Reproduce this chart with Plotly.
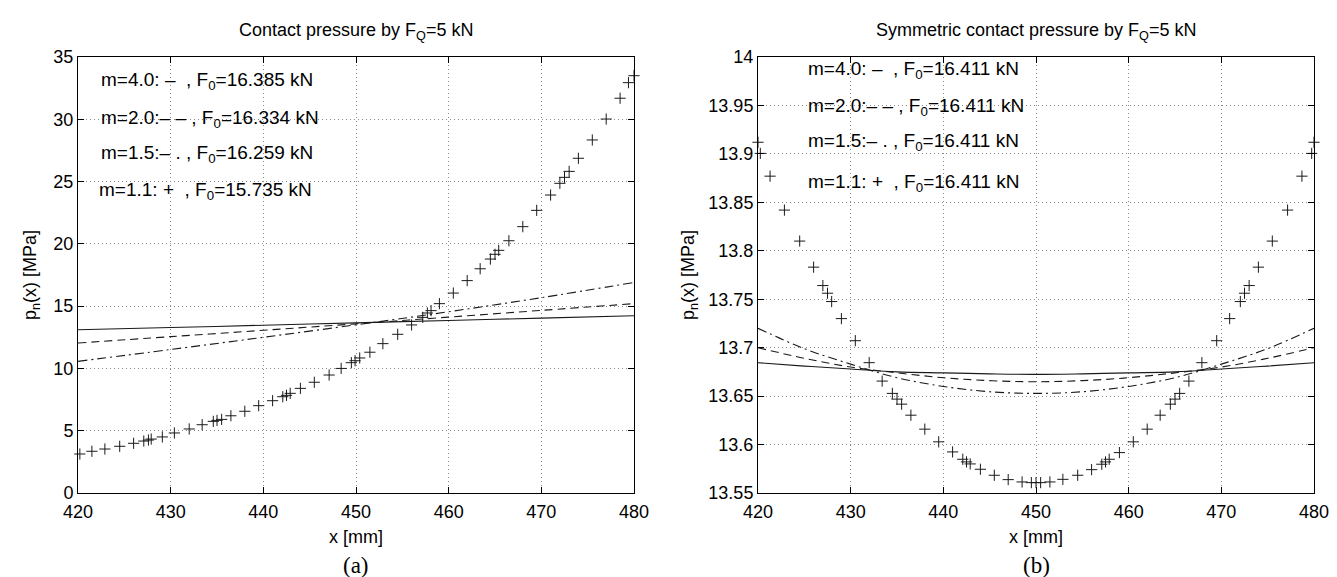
import plotly.graph_objects as go

W, H = 1337, 577

# ---------------- data: plot (a) ----------------
xa_line = [420, 430, 440, 450, 460, 470, 480]
ya_m40 = [13.10, 13.28, 13.47, 13.66, 13.85, 14.04, 14.23]
ya_m20 = [12.04, 12.55, 13.06, 13.58, 14.12, 14.66, 15.20]
ya_m15 = [10.57, 11.52, 12.50, 13.50, 14.55, 15.68, 16.90]

xa_m11 = [420.2, 421.5, 422.9, 424.5, 426.0, 427.1, 427.6, 427.9, 429.1, 430.4,
          432.0, 433.4, 434.6, 435.0, 435.5, 436.5, 438.0, 439.5, 441.0, 442.1,
          442.5, 442.9, 444.0, 445.5, 447.1, 448.4, 449.5, 449.9, 450.4, 451.5,
          452.9, 454.5, 456.0, 457.2, 457.7, 458.1, 459.0, 460.5, 462.0, 463.4,
          464.5, 465.0, 465.4, 466.5, 468.0, 469.5, 471.0, 472.0, 472.5, 473.0,
          474.0, 475.5, 477.0, 478.5, 479.4, 480.0]
ya_m11 = [3.13, 3.35, 3.53, 3.75, 3.99, 4.17, 4.25, 4.33, 4.50, 4.82,
          5.14, 5.48, 5.75, 5.83, 5.91, 6.20, 6.56, 7.01, 7.41, 7.73,
          7.84, 8.00, 8.40, 8.89, 9.47, 10.00, 10.46, 10.62, 10.84, 11.30,
          11.99, 12.74, 13.49, 14.10, 14.45, 14.64, 15.20, 16.05, 17.05, 18.00,
          18.78, 19.16, 19.48, 20.25, 21.38, 22.69, 23.92, 24.86, 25.34, 25.82,
          26.87, 28.34, 30.02, 31.69, 32.94, 33.50]

# ---------------- data: plot (b) ----------------
xb_line = [420, 425, 430, 435, 440, 445, 450, 455, 460, 465, 470, 475, 480]
yb_m40 = [13.6845, 13.681, 13.678, 13.675, 13.674, 13.673, 13.6724,
          13.673, 13.674, 13.675, 13.678, 13.681, 13.6845]
yb_m20 = [13.700, 13.689, 13.680, 13.674, 13.669, 13.666, 13.6648,
          13.666, 13.669, 13.674, 13.680, 13.689, 13.700]
yb_m15 = [13.720, 13.699, 13.683, 13.669, 13.660, 13.6545, 13.6528,
          13.6545, 13.660, 13.669, 13.683, 13.699, 13.720]

xb_m11 = [420.0, 420.25, 421.3, 422.85, 424.5, 426.0, 427.0, 427.5, 427.95, 429.0,
          430.5, 432.0, 433.4, 434.5, 435.0, 435.5, 436.5, 438.0, 439.5, 441.0,
          442.1, 442.5, 442.9, 444.0, 445.5, 447.0, 448.5, 449.5, 450.0, 450.5,
          451.5, 452.9, 454.5, 456.0, 457.1, 457.5, 457.9, 459.0, 460.5, 462.0,
          463.4, 464.5, 465.0, 465.5, 466.5, 467.9, 469.5, 470.9, 472.05, 472.5,
          473.0, 474.0, 475.5, 477.15, 478.7, 479.75, 480.0]
yb_m11 = [13.912, 13.9005, 13.877, 13.842, 13.810, 13.7831, 13.7641, 13.7562, 13.7476, 13.730,
          13.7072, 13.6845, 13.6655, 13.6528, 13.6469, 13.6417, 13.6303, 13.6159, 13.6028, 13.5924,
          13.5848, 13.5821, 13.580, 13.5745, 13.5683, 13.5638, 13.5614, 13.5607, 13.5607, 13.5607,
          13.5614, 13.5641, 13.5683, 13.5741, 13.5797, 13.5821, 13.5848, 13.5917, 13.6028, 13.6159,
          13.6303, 13.6417, 13.6469, 13.6528, 13.6655, 13.6845, 13.7072, 13.730, 13.7476, 13.7562,
          13.7641, 13.7831, 13.810, 13.842, 13.877, 13.9005, 13.912]

# ---------------- labels ----------------
x_ticks = [420, 430, 440, 450, 460, 470, 480]
ya_ticks = [0, 5, 10, 15, 20, 25, 30, 35]
yb_ticks = [13.55, 13.6, 13.65, 13.7, 13.75, 13.8, 13.85, 13.9, 13.95, 14.0]
yb_ticktext = ["13.55", "13.6", "13.65", "13.7", "13.75", "13.8", "13.85", "13.9", "13.95", "14"]

title_a = "Contact pressure by F<sub>Q</sub>=5 kN"
title_b = "Symmetric contact pressure by F<sub>Q</sub>=5 kN"
ytitle = "p<sub>n</sub>(x) [MPa]"
xtitle = "x [mm]"
NB = "\u00a0"
legend_a = [f"m=4.0: –{NB}{NB}, F<sub>0</sub>=16.385 kN",
            f"m=2.0:– –{NB}, F<sub>0</sub>=16.334 kN",
            f"m=1.5:– .{NB}, F<sub>0</sub>=16.259 kN",
            f"m=1.1: +{NB}{NB}, F<sub>0</sub>=15.735 kN"]
legend_b = [f"m=4.0: –{NB}{NB}, F<sub>0</sub>=16.411 kN",
            f"m=2.0:– –{NB}, F<sub>0</sub>=16.411 kN",
            f"m=1.5:– .{NB}, F<sub>0</sub>=16.411 kN",
            f"m=1.1: +{NB}{NB}, F<sub>0</sub>=16.411 kN"]
legend_a_pos = [(422.3, 33.05), (422.3, 30.0), (422.3, 27.24), (422.1, 24.27)]
legend_b_pos = [(425.2, 13.987), (425.2, 13.948), (425.2, 13.912), (425.2, 13.870)]

SANS = "Liberation Sans, Arial, Helvetica, sans-serif"
SERIF = "Liberation Serif, Times New Roman, serif"
LC = "#1a1a1a"

fig = go.Figure()

def add_lines(x, ys, xa, ya):
    dashes = ["solid", "8px,5px", "9px,4px,2px,4px"]
    for y, d in zip(ys, dashes):
        fig.add_trace(go.Scatter(
            x=x, y=y, mode="lines", xaxis=xa, yaxis=ya, showlegend=False,
            line=dict(color=LC, width=1.1, dash=d, shape="spline", smoothing=1.0),
            hoverinfo="skip"))

def add_markers(x, y, xa, ya):
    fig.add_trace(go.Scatter(
        x=x, y=y, mode="markers", xaxis=xa, yaxis=ya, showlegend=False,
        cliponaxis=False,
        marker=dict(symbol="cross-thin", size=8, color=LC,
                    line=dict(width=1.0, color=LC)),
        hoverinfo="skip"))

add_lines(xa_line, [ya_m40, ya_m20, ya_m15], "x", "y")
add_markers(xa_m11, ya_m11, "x", "y")
add_lines(xb_line, [yb_m40, yb_m20, yb_m15], "x2", "y2")
add_markers(xb_m11, yb_m11, "x2", "y2")

# pixel layout of the plot areas
L1, R1 = 70, 626
L2, R2 = 750, 1306
T, B = 49, 485

def px(xp):
    return xp / W

def py(yp):
    return 1 - yp / H

axis_common = dict(
    showline=True, linecolor="black", linewidth=1, mirror="ticks",
    ticks="inside", ticklen=6, tickcolor="black", tickwidth=1,
    showgrid=True, gridcolor="#8a8a8a", gridwidth=1, griddash="1px,3px",
    zeroline=False, automargin=False,
    tickfont=dict(family=SANS, size=18, color="black"),
)

fig.update_layout(
    width=W, height=H,
    margin=dict(l=0, r=0, t=0, b=0),
    paper_bgcolor="white", plot_bgcolor="white",
    xaxis=dict(domain=[px(L1), px(R1)], range=[420, 480], tickvals=x_ticks,
               anchor="y", ticklabelstandoff=2, **axis_common),
    yaxis=dict(domain=[py(B), py(T)], range=[0, 35], tickvals=ya_ticks,
               anchor="x", **axis_common),
    xaxis2=dict(domain=[px(L2), px(R2)], range=[420, 480], tickvals=x_ticks,
                anchor="y2", ticklabelstandoff=2, **axis_common),
    yaxis2=dict(domain=[py(B), py(T)], range=[13.55, 14.0], tickvals=yb_ticks,
                ticktext=yb_ticktext, anchor="x2", **axis_common),
)

ann = []
# subplot titles
for cx, t in [((L1 + R1) / 2, title_a), ((L2 + R2) / 2, title_b)]:
    ann.append(dict(text=t, x=px(cx), y=py(24), xref="paper", yref="paper",
                    showarrow=False, xanchor="center", yanchor="middle",
                    font=dict(family=SANS, size=18, color="black")))
# x titles
for cx in [(L1 + R1) / 2, (L2 + R2) / 2]:
    ann.append(dict(text=xtitle, x=px(cx), y=py(529), xref="paper", yref="paper",
                    showarrow=False, xanchor="center", yanchor="middle",
                    font=dict(family=SANS, size=18, color="black")))
# y titles
for cx in [23, 681]:
    ann.append(dict(text=ytitle, x=px(cx), y=py((T + B) / 2), xref="paper", yref="paper",
                    showarrow=False, xanchor="center", yanchor="middle", textangle=-90,
                    font=dict(family=SANS, size=18, color="black")))
# panel letters
for cx, lab in [((L1 + R1) / 2, "(a)"), ((L2 + R2) / 2, "(b)")]:
    ann.append(dict(text=lab, x=px(cx), y=py(557), xref="paper", yref="paper",
                    showarrow=False, xanchor="center", yanchor="middle",
                    font=dict(family=SERIF, size=23, color="black")))
# in-plot legends
for txt, (xx, yy) in zip(legend_a, legend_a_pos):
    ann.append(dict(text=txt, x=xx, y=yy, xref="x", yref="y", showarrow=False,
                    xanchor="left", yanchor="middle",
                    font=dict(family=SANS, size=19, color="black")))
for txt, (xx, yy) in zip(legend_b, legend_b_pos):
    ann.append(dict(text=txt, x=xx, y=yy, xref="x2", yref="y2", showarrow=False,
                    xanchor="left", yanchor="middle",
                    font=dict(family=SANS, size=19, color="black")))

fig.update_layout(annotations=ann)
fig.write_html("out.html")
